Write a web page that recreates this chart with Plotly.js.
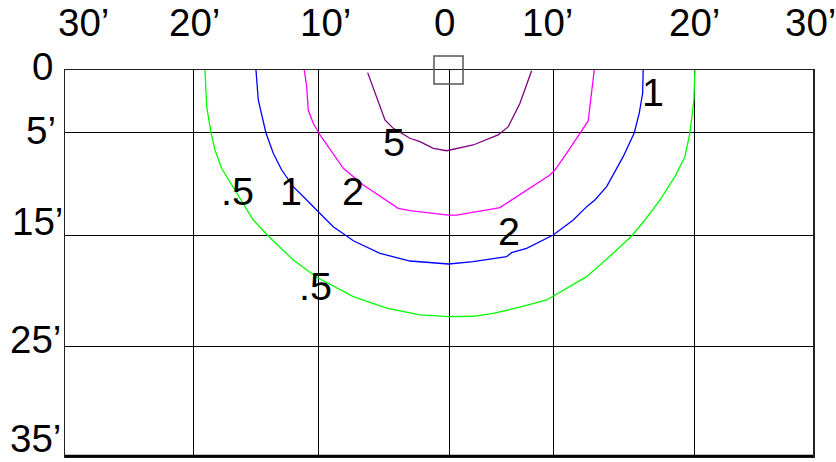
<!DOCTYPE html>
<html>
<head>
<meta charset="utf-8">
<script src="https://cdn.plot.ly/plotly-3.0.1.min.js"></script>
<style>html,body{margin:0;padding:0;background:#fff;}#chart{width:836px;height:462px;}</style>
</head>
<body>
<div id="chart"></div>
<script>
// Isofootcandle curves (distance in feet: x = lateral, y = distance from fixture)
const levels = [".5", "1", "2", "5"];

const x05 = [-19.07,-18.94,-18.60,-18.29,-17.77,-16.73,-16.08,-15.30,-14.13,-12.18,-10.35,-7.49,-4.89,-2.29,-0.05,1.87,3.43,5.52,7.60,10.73,12.80,14.24,15.28,16.45,17.62,18.40,18.79,19.10,19.18];
const y05 = [0,3.33,5.71,7.25,8.91,10.88,12.09,13.60,15.05,17.23,18.79,20.55,21.60,22.21,22.37,22.33,22.06,21.51,20.85,18.74,16.62,15.05,13.60,11.79,9.67,7.86,5.71,2.72,0];

const x1 = [-15.09,-14.91,-14.31,-13.74,-13.08,-12.18,-11.13,-10.09,-9.06,-8.01,-7.49,-5.41,-3.07,-0.05,1.87,4.48,4.87,6.04,8.12,9.68,10.73,11.37,12.29,13.58,14.44,14.83,15.10,15.14];
const y1 = [0,2.72,5.71,7.55,9.07,10.58,11.79,12.99,14.21,15.05,15.48,16.62,17.32,17.59,17.38,16.93,16.56,16.17,14.96,13.60,12.39,11.79,10.58,7.86,5.71,3.93,2.11,0];

const x2 = [-11.32,-11.13,-11.01,-10.62,-10.09,-9.06,-8.27,-6.71,-3.98,-3.07,-0.08,0.58,3.96,7.86,8.25,9.16,10.85,11.32];
const y2 = [0,1.51,3.63,4.83,5.89,7.55,8.91,10.43,12.54,12.76,13.15,13.15,12.48,9.52,9.07,7.55,4.62,0];

const x5 = [-6.37,-5.67,-5.02,-4.37,-3.07,-2.29,-1.25,-0.20,1.87,3.82,4.61,5.52,6.43];
const y5 = [0.24,2.42,4.53,5.29,6.19,6.50,7.10,7.32,6.80,5.89,5.14,3.02,0.06];

// Curve label texts and their positions (feet)
const curveLabelText = [".5", "1", "2", "5", "2", ".5", "1"];
const curveLabelX = [-16.50, -12.36, -7.52, -4.28, 4.66, -10.41, 15.90];
const curveLabelY = [10.97, 10.97, 10.97, 6.50, 14.60, 19.58, 1.99];

// Axis labels
const topLabels = ["30’", "20’", "10’", "0", "10’", "20’", "30’"];
const leftLabels = ["0", "5’", "15’", "25’", "35’"];

// Grid line positions (feet)
const gridX = [-20.0, -10.17, 0, 8.12, 19.18];
const gridY = [5.71, 15.05, 25.11];

const FONT = "Liberation Sans, Arial, sans-serif";
const colors = ["#00ff00", "#0000ff", "#ff00ff", "#800080"];
const series = [[x05, y05], [x1, y1], [x2, y2], [x5, y5]];

const traces = series.map((s, i) => ({
  x: s[0], y: s[1], type: "scatter", mode: "lines",
  name: levels[i], line: {color: colors[i], width: 1.3, shape: "linear"},
  hoverinfo: "skip"
}));

// layout-only positions of the axis labels (paper coords)
const topLabelPX = [0.0254, 0.1725, 0.3489, 0.5080, 0.6444, 0.8422, 0.9960];
const leftLabelPX = [-0.0307, -0.0321, -0.0374, -0.0388, -0.0388];
const leftLabelPY = [1.0091, 0.8433, 0.6070, 0.3031, 0.0450];

const annotations = [];
topLabels.forEach((t, i) => annotations.push({
  text: t, xref: "paper", yref: "paper", x: topLabelPX[i], y: 1.1218,
  xanchor: "center", yanchor: "middle", showarrow: false,
  font: {family: FONT, size: 38.5, color: "#000"}
}));
leftLabels.forEach((t, i) => annotations.push({
  text: t, xref: "paper", yref: "paper", x: leftLabelPX[i], y: leftLabelPY[i],
  xanchor: "center", yanchor: "middle", showarrow: false, borderpad: 0,
  font: {family: FONT, size: 38.5, color: "#000"}
}));
curveLabelText.forEach((t, i) => annotations.push({
  text: t, xref: "x", yref: "y", x: curveLabelX[i], y: curveLabelY[i],
  xanchor: "center", yanchor: "middle", showarrow: false,
  font: {family: FONT, size: 39.5, color: "#000"}
}));

const layout = {
  width: 836, height: 462,
  margin: {l: 65, r: 23, t: 70, b: 6, pad: 0},
  paper_bgcolor: "#fff", plot_bgcolor: "#fff",
  showlegend: false,
  xaxis: {
    range: [-30, 28.4], tickvals: gridX, showticklabels: false, ticks: "",
    showgrid: true, gridcolor: "#000", gridwidth: 1, zeroline: false,
    showline: true, mirror: true, linecolor: "#222", linewidth: 1.5, fixedrange: true
  },
  yaxis: {
    range: [35, 0], tickvals: gridY, showticklabels: false, ticks: "",
    showgrid: true, gridcolor: "#000", gridwidth: 1, zeroline: false,
    showline: true, mirror: true, linecolor: "#222", linewidth: 1.5, fixedrange: true
  },
  shapes: [
    {type: "rect", xref: "paper", yref: "paper", x0: 0.4933, x1: 0.5321, y0: 0.9637, y1: 1.0363,
     line: {color: "#555", width: 1.5}, fillcolor: "rgba(0,0,0,0)", layer: "above"},
    {type: "line", xref: "paper", yref: "paper", x0: 0, x1: 1, y0: 0, y1: 0,
     line: {color: "#000", width: 2.5}, layer: "above"}
  ],
  annotations: annotations
};

Plotly.newPlot("chart", traces, layout, {staticPlot: true, displayModeBar: false});
</script>
</body>
</html>
